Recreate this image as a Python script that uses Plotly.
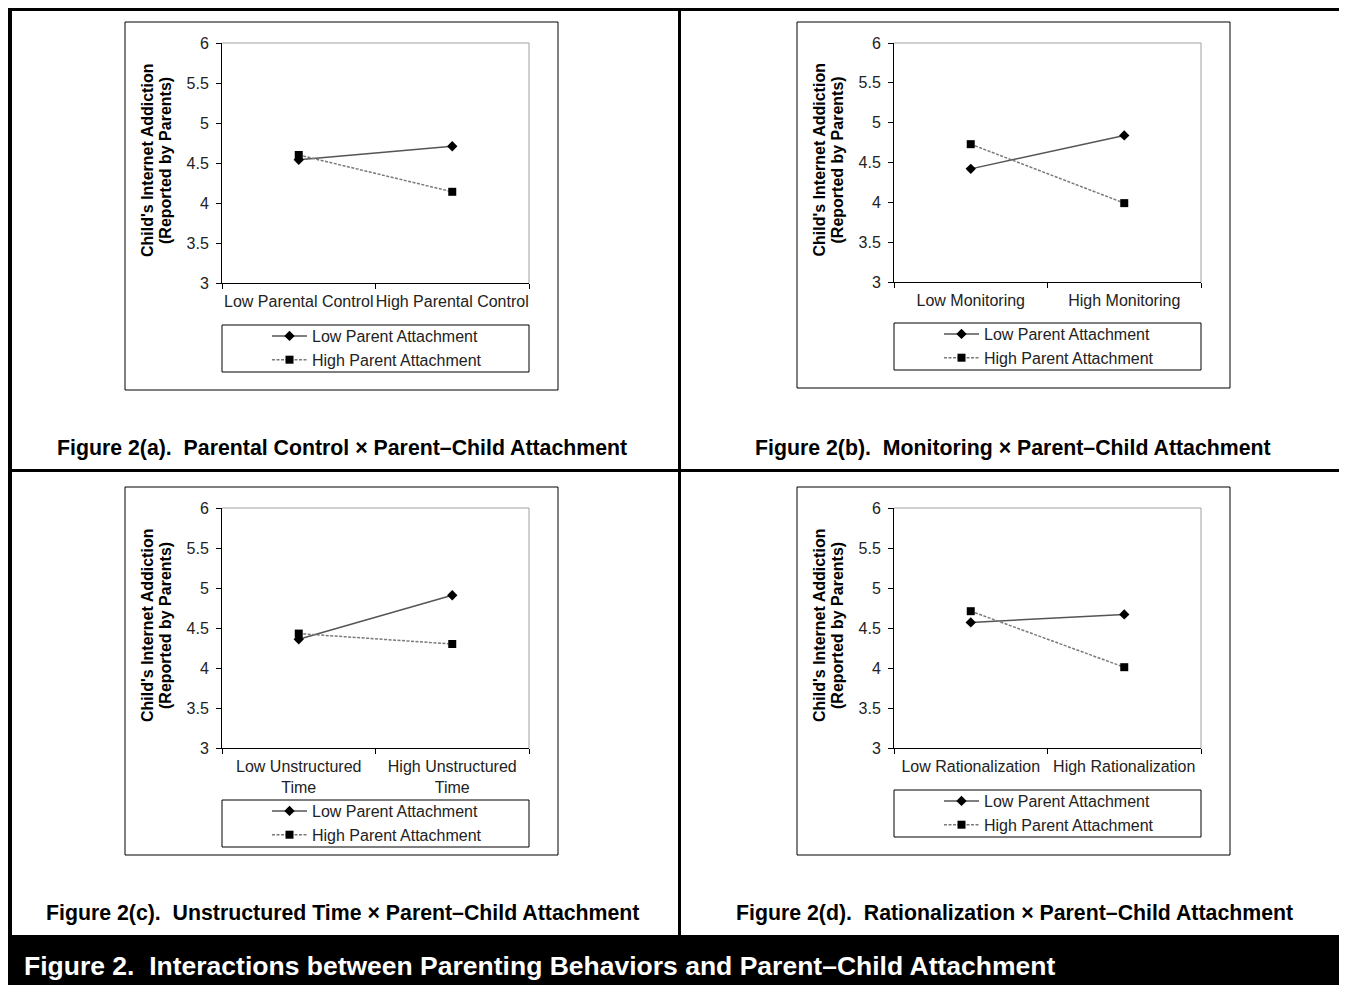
import plotly.graph_objects as go

# ---------------- data ----------------
series_names = ["Low Parent Attachment", "High Parent Attachment"]

categories_a = ["Low Parental Control", "High Parental Control"]
low_pa_a = [4.54, 4.71]
high_pa_a = [4.60, 4.14]

categories_b = ["Low Monitoring", "High Monitoring"]
low_pa_b = [4.42, 4.84]
high_pa_b = [4.73, 3.99]

categories_c = ["Low Unstructured<br>Time", "High Unstructured<br>Time"]
low_pa_c = [4.36, 4.91]
high_pa_c = [4.43, 4.30]

categories_d = ["Low Rationalization", "High Rationalization"]
low_pa_d = [4.57, 4.67]
high_pa_d = [4.71, 4.01]

y_tick_vals = [3, 3.5, 4, 4.5, 5, 5.5, 6]
y_tick_text = ["3", "3.5", "4", "4.5", "5", "5.5", "6"]
y_title_lines = ["Child's Internet Addiction", "(Reported by Parents)"]

panel_titles = [
    "Figure 2(a).\u00a0 Parental Control \u00d7 Parent\u2013Child Attachment",
    "Figure 2(b).\u00a0 Monitoring \u00d7 Parent\u2013Child Attachment",
    "Figure 2(c).\u00a0 Unstructured Time \u00d7 Parent\u2013Child Attachment",
    "Figure 2(d).\u00a0 Rationalization \u00d7 Parent\u2013Child Attachment",
]
main_title = "Figure 2.\u00a0 Interactions between Parenting Behaviors and Parent\u2013Child Attachment"

# ---------------- layout geometry (window pixels) ----------------
OFF = 8                       # page body margin
W, H = 1347 - OFF, 985 - OFF  # figure size so it ends at the window edge
def px(x):
    return (x - OFF) / W
def py(y):
    return 1 - (y - OFF) / H

FONT = "Liberation Sans, Arial, sans-serif"

panels = [
    dict(cats=categories_a, low=low_pa_a, high=high_pa_a,
         box=(125, 22, 558, 390), plot=(222, 43, 529, 283), leg=(222, 325, 529, 372),
         title_xy=(342, 448)),
    dict(cats=categories_b, low=low_pa_b, high=high_pa_b,
         box=(797, 22, 1230, 388), plot=(894, 43, 1201, 282), leg=(894, 323, 1201, 370),
         title_xy=(1013, 448)),
    dict(cats=categories_c, low=low_pa_c, high=high_pa_c,
         box=(125, 487, 558, 855), plot=(222, 508, 529, 748), leg=(222, 800, 529, 847),
         title_xy=(342, 913)),
    dict(cats=categories_d, low=low_pa_d, high=high_pa_d,
         box=(797, 487, 1230, 855), plot=(894, 508, 1201, 748), leg=(894, 790, 1201, 837),
         title_xy=(1014, 913)),
]

fig = go.Figure()
shapes = []
annotations = []
layout_extra = {}

for i, p in enumerate(panels):
    n = "" if i == 0 else str(i + 1)
    xa, ya = "x" + n, "y" + n
    leg = "legend" + n
    fig.add_trace(go.Scatter(
        x=p["cats"], y=p["low"], name=series_names[0], xaxis=xa, yaxis=ya, legend=leg,
        mode="lines+markers",
        line=dict(color="#555555", width=1.5),
        marker=dict(symbol="diamond", size=8, color="black"),
    ))
    fig.add_trace(go.Scatter(
        x=p["cats"], y=p["high"], name=series_names[1], xaxis=xa, yaxis=ya, legend=leg,
        mode="lines+markers",
        line=dict(color="#7a7a7a", width=1.5, dash="3px,1.5px"),
        marker=dict(symbol="square", size=8, color="black"),
    ))
    x0, y0, x1, y1 = p["plot"]
    layout_extra["xaxis" + n] = dict(
        domain=[px(x0), px(x1)], anchor=ya, type="category", range=[-0.5, 1.5],
        tickson="boundaries", ticks="outside", ticklen=5, tickcolor="black",
        tickangle=0, automargin=False, ticklabelstandoff=4,
        showline=True, linecolor="black", linewidth=1, showgrid=False, zeroline=False,
        tickfont=dict(family=FONT, size=16, color="#222222"),
    )
    layout_extra["yaxis" + n] = dict(
        domain=[py(y1), py(y0)], anchor=xa, range=[3, 6], automargin=False,
        tickmode="array", tickvals=y_tick_vals, ticktext=y_tick_text,
        ticks="outside", ticklen=5, tickcolor="black", ticklabelstandoff=4,
        showline=True, linecolor="black", linewidth=1, showgrid=False, zeroline=False,
        tickfont=dict(family=FONT, size=16, color="#222222"),
    )
    # plot-area gray border (top / right)
    shapes.append(dict(type="line", xref="paper", yref="paper",
                       x0=px(x0), x1=px(x1), y0=py(y0), y1=py(y0),
                       line=dict(color="#a0a0a0", width=1), layer="below"))
    shapes.append(dict(type="line", xref="paper", yref="paper",
                       x0=px(x1), x1=px(x1), y0=py(y0), y1=py(y1),
                       line=dict(color="#a0a0a0", width=1), layer="below"))
    # panel outer box
    bx0, by0, bx1, by1 = p["box"]
    shapes.append(dict(type="rect", xref="paper", yref="paper",
                       x0=px(bx0), x1=px(bx1), y0=py(by1), y1=py(by0),
                       line=dict(color="black", width=1)))
    # legend box
    lx0, ly0, lx1, ly1 = p["leg"]
    shapes.append(dict(type="rect", xref="paper", yref="paper",
                       x0=px(lx0), x1=px(lx1), y0=py(ly1), y1=py(ly0),
                       line=dict(color="black", width=1)))
    layout_extra[leg] = dict(
        x=px(lx0 + 45), y=py(ly0 - 6), xanchor="left", yanchor="top",
        bgcolor="rgba(0,0,0,0)", borderwidth=0, itemwidth=35,
        font=dict(family=FONT, size=16, color="#222222"), tracegroupgap=0,
    )
    # y-axis title (two lines, rotated)
    ycen = (y0 + y1) / 2 - 2
    for k, line_txt in enumerate(y_title_lines):
        annotations.append(dict(
            text="<b>%s</b>" % line_txt, xref="paper", yref="paper",
            x=px(x0 - 75 + 18 * k), y=py(ycen), textangle=-90,
            showarrow=False, xanchor="center", yanchor="middle",
            font=dict(family=FONT, size=16, color="black"),
        ))
    # panel caption
    tx, ty = p["title_xy"]
    annotations.append(dict(
        text="<b>%s</b>" % panel_titles[i], xref="paper", yref="paper",
        x=px(tx), y=py(ty), showarrow=False, xanchor="center", yanchor="middle",
        font=dict(family=FONT, size=21.3, color="black"),
    ))

# frame bars
frame_rects = [
    (7, 5, 1347, 11),     # top
    (7, 5, 12, 985),      # left
    (678, 10, 681, 935),  # vertical divider
    (12, 469, 1347, 472), # horizontal divider
    (0, 935, 1347, 985),  # bottom bar
]
for (a, b, c, d) in frame_rects:
    shapes.append(dict(type="rect", xref="paper", yref="paper",
                       x0=px(a), x1=px(c), y0=py(d), y1=py(b),
                       fillcolor="black", line=dict(width=0), layer="above"))

annotations.append(dict(
    text="<b>%s</b>" % main_title, xref="paper", yref="paper",
    x=px(22), y=py(966), showarrow=False, xanchor="left", yanchor="middle",
    font=dict(family=FONT, size=26.5, color="white"),
))

fig.update_layout(
    template="none",
    width=W, height=H, margin=dict(l=0, r=0, t=0, b=0, autoexpand=False),
    paper_bgcolor="white", plot_bgcolor="white",
    shapes=shapes, annotations=annotations, showlegend=True,
    font=dict(family=FONT),
    **layout_extra,
)

fig.write_html("out.html")
